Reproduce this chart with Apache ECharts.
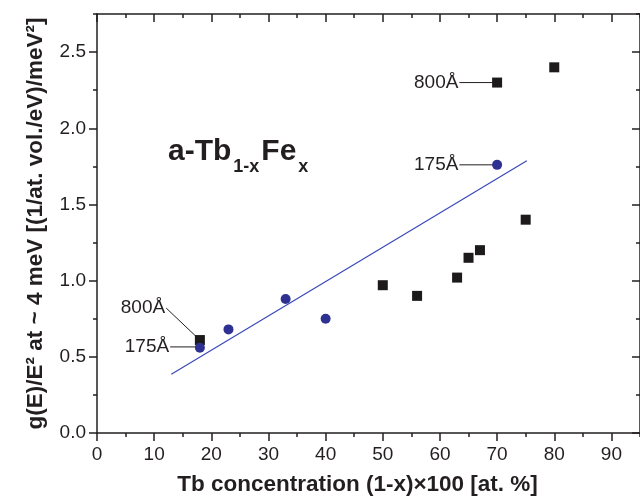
<!DOCTYPE html>
<html>
<head>
<meta charset="utf-8">
<script src="https://cdn.jsdelivr.net/npm/echarts@6/dist/echarts.min.js"></script>
<style>
  html, body { margin: 0; padding: 0; background: #fff; }
  #chart { width: 640px; height: 501px; }
</style>
</head>
<body>
<div id="chart"></div>
<script>
// Tb concentration (at.%) vs g(E)/E^2
const squareX = [18, 50, 56, 63, 65, 67, 75, 70, 80];
const squareY = [0.61, 0.97, 0.90, 1.02, 1.15, 1.20, 1.40, 2.30, 2.40];
const circleX = [18, 23, 33, 40, 70];
const circleY = [0.56, 0.68, 0.88, 0.75, 1.76];
const fitX = [13, 75.2];
const fitY = [0.385, 1.787];

const xTicks = [0, 10, 20, 30, 40, 50, 60, 70, 80, 90];
const xMinorTicks = [0, 5, 10, 15, 20, 25, 30, 35, 40, 45, 50, 55, 60, 65, 70, 75, 80, 85, 90, 95];
const yTicks = [0, 0.5, 1.0, 1.5, 2.0, 2.5];
const yMinorTicks = [0, 0.25, 0.5, 0.75, 1.0, 1.25, 1.5, 1.75, 2.0, 2.25, 2.5, 2.75];

// film thickness notes: text, leader start, leader end (data coords)
const noteText = ["800Å", "175Å", "800Å", "175Å"];
const noteFrom = [[63.4, 2.30], [63.4, 1.76], [12.1, 0.82], [12.8, 0.565]];
const noteTo = [[70, 2.30], [70, 1.76], [18, 0.61], [18, 0.565]];

const FONT = "Liberation Sans, Arial, Helvetica, sans-serif";
const INK = "#231f20";

const zip = (xs, ys) => xs.map((x, i) => [x, ys[i]]);

// 轴：主刻度/次刻度分开画
const axis = (dim, pos, ticks, min, max, major, extra) => Object.assign({
  type: "value",
  position: pos,
  min: min,
  max: max,
  interval: dim === "x" ? (major ? 10 : 5) : (major ? 0.5 : 0.25),
  axisLine: { show: major, onZero: false, lineStyle: { color: INK, width: 1.5 } },
  axisTick: {
    show: true,
    inside: pos === "top" || pos === "right",
    length: major ? 8 : 4,
    customValues: ticks,
    lineStyle: { color: INK, width: 1.5 },
  },
  axisLabel: { show: false },
  splitLine: { show: false },
}, extra || {});

const tickLabel = {
  show: true,
  fontFamily: FONT,
  fontSize: 19,
  color: INK,
};

const chart = echarts.init(document.getElementById("chart"), null, { renderer: "canvas" });

const leaderSeries = noteFrom.map((p, i) => ({
  type: "line",
  xAxisIndex: 0,
  yAxisIndex: 0,
  data: [p, noteTo[i]],
  symbol: "none",
  silent: true,
  lineStyle: { color: INK, width: 1 },
  z: 1,
}));

const mainStyle = { fontFamily: FONT, fontWeight: "bold", fontSize: 30, lineHeight: 30, verticalAlign: "top", color: INK };
const subStyle = { fontFamily: FONT, fontWeight: "bold", fontSize: 18, lineHeight: 39, verticalAlign: "bottom", color: INK };

chart.setOption({
  animation: false,
  backgroundColor: "#fff",
  grid: { left: 97, top: 14, right: -7, bottom: 68, containLabel: false },
  title: {
    text: "{m|a-Tb}{s|1-x}{f|Fe}{s|x}",
    left: 168,
    top: 137,
    padding: 0,
    textStyle: {
      rich: {
        m: mainStyle,
        f: Object.assign({}, mainStyle, { padding: [0, 0, 0, 2] }),
        s: Object.assign({}, subStyle, { padding: [0, 0, 0, 2] }),
      },
    },
  },
  xAxis: [
    axis("x", "bottom", xTicks, 0, 95, true, {
      axisLabel: Object.assign({ customValues: xTicks, margin: 12 }, tickLabel),
      name: "Tb concentration (1-x)×100 [at. %]",
      nameLocation: "middle",
      nameGap: 40,
      nameTextStyle: { fontFamily: FONT, fontWeight: "bold", fontSize: 22.5, color: INK, padding: [0, 22, 0, 0] },
    }),
    axis("x", "bottom", xMinorTicks, 0, 95, false),
    axis("x", "top", xTicks, 0, 95, true),
    axis("x", "top", xMinorTicks, 0, 95, false),
  ],
  yAxis: [
    axis("y", "left", yTicks, 0, 2.75, true, {
      axisLabel: Object.assign({
        customValues: yTicks,
        margin: 11,
        formatter: (v) => v.toFixed(1),
      }, tickLabel),
      name: "g(E)/E² at ~ 4 meV [(1/at. vol./eV)/meV²]",
      nameLocation: "middle",
      nameGap: 50,
      nameTextStyle: { fontFamily: FONT, fontWeight: "bold", fontSize: 22.5, color: INK },
    }),
    axis("y", "left", yMinorTicks, 0, 2.75, false),
    axis("y", "right", yTicks, 0, 2.75, true),
    axis("y", "right", yMinorTicks, 0, 2.75, false),
  ],
  series: leaderSeries.concat([
    {
      name: "fit",
      type: "line",
      data: zip(fitX, fitY),
      symbol: "none",
      silent: true,
      lineStyle: { color: "#3a49b8", width: 1.2 },
      z: 2,
    },
    {
      name: "800Å-type",
      type: "scatter",
      data: zip(squareX, squareY),
      symbol: "rect",
      symbolSize: 10,
      itemStyle: { color: "#1c1a1b", opacity: 1 },
      z: 3,
    },
    {
      name: "175Å-type",
      type: "scatter",
      data: zip(circleX, circleY),
      symbol: "circle",
      symbolSize: 10,
      itemStyle: { color: "#2e3192", opacity: 1 },
      z: 4,
    },
    {
      name: "notes",
      type: "scatter",
      data: noteFrom,
      symbolSize: 0,
      silent: true,
      itemStyle: { opacity: 1 },
      label: {
        show: true,
        position: "left",
        distance: 1,
        fontFamily: FONT,
        fontSize: 19,
        color: INK,
        opacity: 1,
        formatter: (p) => noteText[p.dataIndex],
      },
      z: 5,
    },
  ]),
});
</script>
</body>
</html>
